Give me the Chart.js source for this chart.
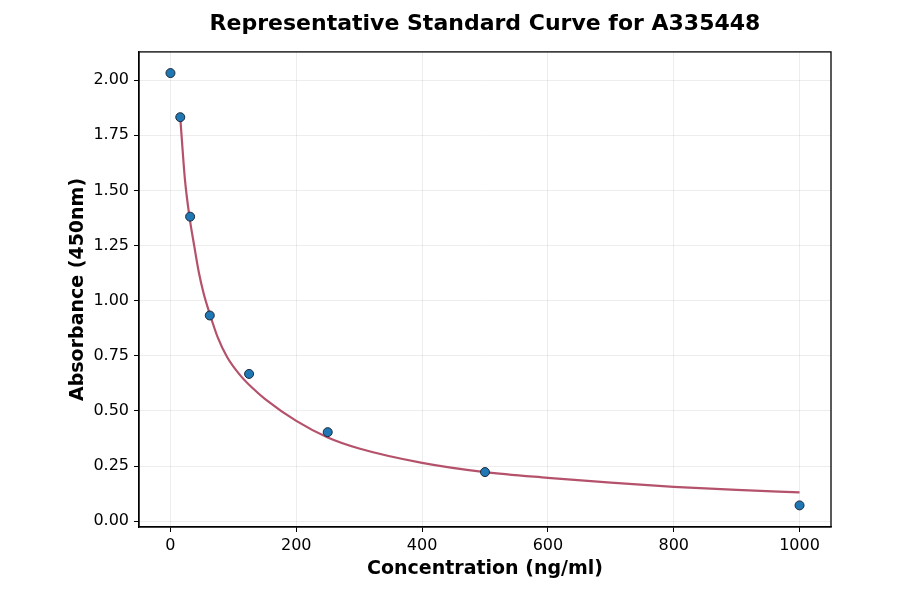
<!DOCTYPE html>
<html>
<head>
<meta charset="utf-8">
<script src="https://cdn.jsdelivr.net/npm/chart.js@4/dist/chart.umd.min.js"></script>
<style>
  html, body { margin: 0; padding: 0; background: #fff; }
  #wrap { width: 900px; height: 594px; }
</style>
</head>
<body>
<div id="wrap"><canvas id="curveChart" width="900" height="594"></canvas></div>
<script>
// standards (measured points)
const concentrations = [0, 15.6, 31.25, 62.5, 125, 250, 500, 1000];
const absorbances = [2.032, 1.832, 1.381, 0.933, 0.668, 0.404, 0.223, 0.072];

// fitted curve
const fitX = [15.6, 18, 23, 30, 38, 45, 53, 62.5, 75, 90, 110, 130, 150, 200, 250, 300, 400, 500, 600, 700, 800, 900, 1000];
const fitY = [1.83, 1.735, 1.55, 1.385, 1.245, 1.13, 1.03, 0.94, 0.835, 0.745, 0.665, 0.605, 0.555, 0.455, 0.38, 0.33, 0.265, 0.223, 0.197, 0.175, 0.156, 0.142, 0.131];

const xTicks = [0, 200, 400, 600, 800, 1000];
const yTicks = [0, 0.25, 0.5, 0.75, 1.0, 1.25, 1.5, 1.75, 2.0];

const FONT = "'DejaVu Sans', sans-serif";

// matplotlib-like frame on all four sides
const frame = {
  id: 'frame',
  afterDatasetsDraw(chart) {
    const a = chart.chartArea;
    const c = chart.ctx;
    c.save();
    c.strokeStyle = '#000';
    c.lineWidth = 1.3;
    c.strokeRect(a.left, a.top, a.right - a.left, a.bottom - a.top);
    c.restore();
  }
};

const ctx = document.getElementById('curveChart').getContext('2d');
new Chart(ctx, {
  type: 'scatter',
  data: {
    datasets: [{
      label: 'Standards',
      data: concentrations.map((x, i) => ({ x: x, y: absorbances[i] })),
      backgroundColor: '#1f77b4',
      borderColor: '#1b2a3a',
      borderWidth: 1,
      pointRadius: 4.5,
    }, {
      label: 'Fit',
      data: fitX.map((x, i) => ({ x: x, y: fitY[i] })),
      showLine: true,
      borderColor: '#b5526b',
      borderWidth: 2.2,
      pointRadius: 0,
      cubicInterpolationMode: 'monotone',
    }]
  },
  options: {
    responsive: false,
    animation: false,
    layout: { padding: { left: 0, right: 69, top: 0, bottom: 0 } },
    plugins: {
      legend: { display: false },
      tooltip: { enabled: false },
      title: {
        display: true,
        fullSize: false,
        text: 'Representative Standard Curve for A335448',
        color: '#000',
        font: { family: FONT, size: 22, weight: 'bold' },
        padding: { top: 11, bottom: 14.5 }
      }
    },
    scales: {
      x: {
        type: 'linear',
        min: -50,
        max: 1050,
        afterBuildTicks: s => { s.ticks = xTicks.map(v => ({ value: v })); },
        afterFit: s => { s.height = 67; },
        ticks: {
          color: '#000',
          font: { family: FONT, size: 16 },
          padding: 4,
          maxRotation: 0,
          callback: v => String(v)
        },
        grid: { color: 'rgba(0,0,0,0.09)', lineWidth: 0.8, tickColor: '#000', tickLength: 5, tickWidth: 1 },
        border: { display: true, color: '#000', width: 1.3 },
        title: {
          display: true,
          text: 'Concentration (ng/ml)',
          color: '#000',
          font: { family: FONT, size: 19, weight: 'bold' },
          padding: { top: 0, bottom: 13.5 }
        }
      },
      y: {
        type: 'linear',
        min: -0.026,
        max: 2.128,
        afterBuildTicks: s => { s.ticks = yTicks.map(v => ({ value: v })); },
        afterFit: s => { s.width = 139; },
        ticks: {
          color: '#000',
          font: { family: FONT, size: 16 },
          padding: 5,
          callback: v => v.toFixed(2)
        },
        grid: { color: 'rgba(0,0,0,0.09)', lineWidth: 0.8, tickColor: '#000', tickLength: 5, tickWidth: 1 },
        border: { display: true, color: '#000', width: 1.3 },
        title: {
          display: true,
          text: 'Absorbance (450nm)',
          color: '#000',
          font: { family: FONT, size: 19, weight: 'bold' },
          padding: { top: 66.5, bottom: 0 }
        }
      }
    }
  },
  plugins: [frame]
});
</script>
</body>
</html>
